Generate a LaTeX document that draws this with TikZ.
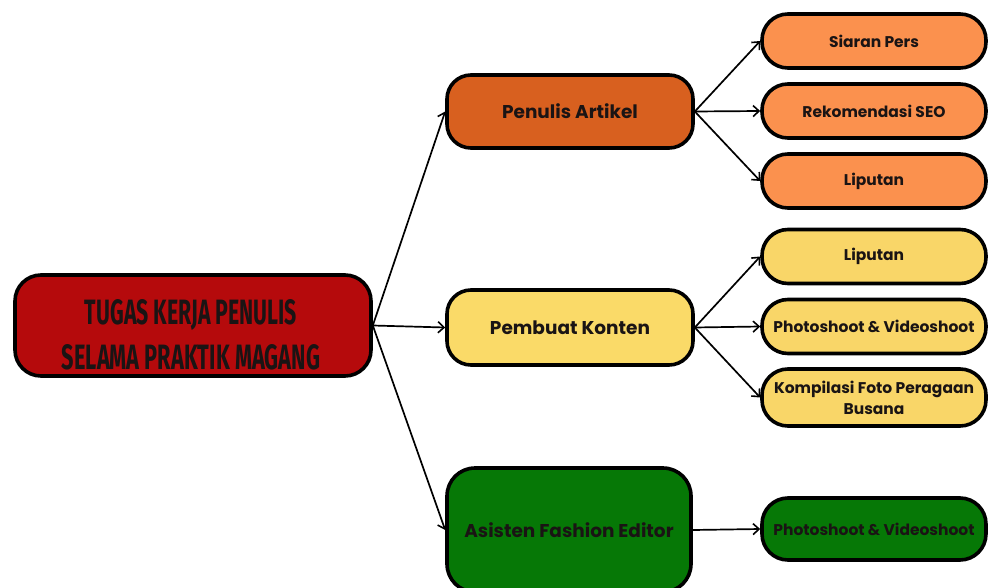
\documentclass[tikz,border=0pt]{standalone}
\usepackage{fontspec}
\setmainfont{Poppins}
\newfontfamily\titlefont{Fira Sans}
\usetikzlibrary{arrows.meta}
\definecolor{rootred}{HTML}{B50A0C}
\definecolor{artorange}{HTML}{D8601F}
\definecolor{lightorange}{HTML}{FB914E}
\definecolor{konyellow}{HTML}{FADA68}
\definecolor{subyellow}{HTML}{F9D668}
\definecolor{edgreen}{HTML}{067806}
\definecolor{textc}{HTML}{1A1414}
\begin{document}
\begin{tikzpicture}[x=1pt,y=-1pt,
  box/.style={draw=black, line width=3.6pt, rounded corners=24pt, inner sep=0pt,
    align=center, text=textc},
  midbox/.style={box, minimum width=246pt, font=\bfseries\fontsize{18.5}{22}\selectfont},
  subbox/.style={box, minimum width=224pt, minimum height=54pt, rounded corners=26pt,
    font=\bfseries\fontsize{15.5}{21}\selectfont},
  arr/.style={line width=1.7pt, -{Straight Barb[length=6pt,width=11pt,line width=1.6pt]}},
  titletext/.style={inner sep=0pt, text=textc, align=center, font=\fontsize{10}{45}\selectfont}
]
\fill[white] (0,0) rectangle (990,588);
\clip (0,0) rectangle (990,588);

% root
\node[box, fill=rootred, minimum width=356pt, minimum height=101pt, rounded corners=26pt] (root) at (193,325.5) {};
\node[titletext] (roottitle) at (191,335) {\resizebox{212pt}{25pt}{\titlefont\bfseries TUGAS KERJA PENULIS}\\\resizebox{258pt}{25pt}{\titlefont\bfseries SELAMA PRAKTIK MAGANG}};

% middle column
\node[midbox, fill=artorange, minimum height=73pt] (artikel) at (570,111.5) {Penulis Artikel};
\node[midbox, fill=konyellow, minimum height=75pt] (konten) at (570,327.5) {Pembuat Konten};
\node[midbox, fill=edgreen, minimum width=244pt, minimum height=124pt, rounded corners=28pt] (asisten) at (569,530) {Asisten Fashion Editor};

% right column
\node[subbox, fill=lightorange] (siaran) at (874,41) {Siaran Pers};
\node[subbox, fill=lightorange] (seo) at (874,111) {Rekomendasi SEO};
\node[subbox, fill=lightorange] (liputanA) at (874,181) {Liputan};
\node[subbox, fill=subyellow] (liputanB) at (874,256.5) {Liputan};
\node[subbox, fill=subyellow] (photoA) at (874,326.5) {Photoshoot \& Videoshoot};
\node[subbox, fill=subyellow, minimum height=57pt] (kompilasi) at (874,397.5) {Kompilasi Foto Peragaan\\Busana};
\node[subbox, fill=edgreen, minimum height=62pt] (photoB) at (874,529) {Photoshoot \& Videoshoot};

% connectors
\draw[arr] (root.east) -- (artikel.west);
\draw[arr] (root.east) -- (konten.west);
\draw[arr] (root.east) -- (asisten.west);
\draw[arr] (artikel.east) -- (siaran.west);
\draw[arr] (artikel.east) -- (seo.west);
\draw[arr] (artikel.east) -- (liputanA.west);
\draw[arr] (konten.east) -- (liputanB.west);
\draw[arr] (konten.east) -- (photoA.west);
\draw[arr] (konten.east) -- (kompilasi.west);
\draw[arr] (asisten.east) -- (photoB.west);
\end{tikzpicture}
\end{document}
